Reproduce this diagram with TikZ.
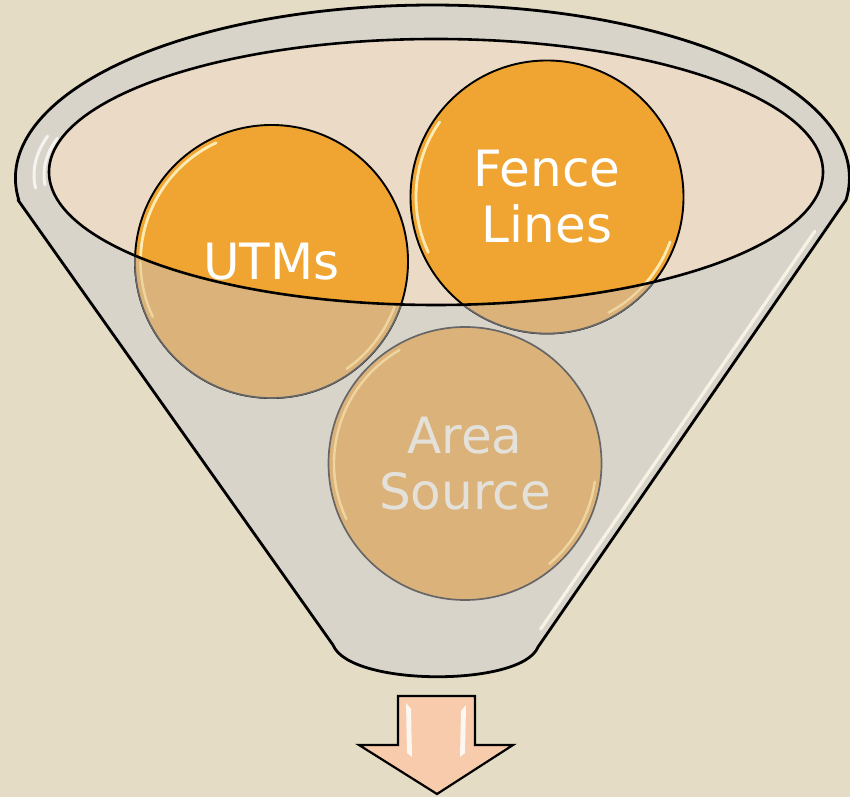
\documentclass[tikz,border=0pt]{standalone}
\usepackage{fontspec}
\setmainfont{DejaVu Sans}

\definecolor{paper}{HTML}{E4DCC4}
\definecolor{funnelgray}{HTML}{D8D4CA}
\definecolor{mouth}{HTML}{EBDBC6}
\definecolor{ballhot}{HTML}{F0A431}
\definecolor{ballmuted}{HTML}{DBB37A}
\definecolor{arrowfill}{HTML}{F7CBAB}
\definecolor{mutedtext}{HTML}{E4E1DB}
\definecolor{gloss}{HTML}{FFF2C0}
\definecolor{sheen}{HTML}{F6F2E6}

\tikzset{
  ball/.style={circle, minimum size=273pt, inner sep=0pt, draw=black,
    line width=1.9pt, fill=ballhot},
  glossline/.style={gloss, line width=2.8pt, line cap=round, opacity=0.9},
  glossfaint/.style={gloss, line width=2.4pt, line cap=round, opacity=0.55},
  labeltext/.style={font=\fontsize{50}{56}\selectfont, align=center, inner sep=0pt},
  rimsheen/.style={white, line width=3pt, line cap=round, opacity=0.75},
}

% glossy rim on a ball: node, start angle, end angle, radius, style
\newcommand\ballglint[5]{%
  \draw[#5] (#1.center) ++(#2:#4) arc[start angle=#2, end angle=#3, radius=#4];}

\begin{document}
\begin{tikzpicture}[x=1pt, y=1pt]
\useasboundingbox (0,0) rectangle (850,797);
\fill[paper] (0,0) rectangle (850,797);

% funnel body with its rim
\path[draw=black, line width=2.8pt, fill=funnelgray, line join=round]
  (18,597) -- (333,152) .. controls (350,110) and (522,110) .. (538,150)
  -- (846,597) arc[start angle=-7.3, end angle=187.3, x radius=417, y radius=173]
  -- cycle;

% sheen on the rim and on the right wall
\draw[rimsheen] (434,622) ++(-400*0.9659,150*0.2588)
  arc[start angle=165, end angle=185, x radius=400, y radius=150];
\draw[rimsheen] (436,622) ++(-392*0.9659,142*0.2588)
  arc[start angle=165, end angle=184, x radius=392, y radius=142];
\draw[sheen, line width=3.2pt, line cap=round] (814.8,565.7) -- (540.6,167.9);

% mouth of the funnel
\fill[mouth] (436,625) ellipse[x radius=387, y radius=133];

% balls
\node[ball] (utms) at (271.5,535.5) {};
\node[ball] (fence) at (547,600) {};
\node[ball, fill=ballmuted, draw=black!60, line width=1.7pt] (area) at (465,333.5) {};

\ballglint{utms}{115}{180}{131}{glossline}
\ballglint{fence}{145}{205}{131}{glossline}
\ballglint{fence}{-20}{-62}{131}{glossline}
\ballglint{area}{120}{205}{131}{glossfaint}
\ballglint{area}{-8}{-50}{131}{glossfaint}

% parts of the balls seen through the front wall
\begin{scope}
  \clip (0,0) -- (850,0) -- (850,625) -- (823,625)
    arc[start angle=0, end angle=-180, x radius=387, y radius=133]
    -- (0,625) -- cycle;
  \fill[ballmuted, draw=black!60, line width=1.7pt] (utms.center) circle[radius=136.5];
  \fill[ballmuted, draw=black!60, line width=1.7pt] (fence.center) circle[radius=136.5];
  \ballglint{utms}{180}{205}{131}{glossfaint}
  \ballglint{utms}{-10}{-55}{131}{glossfaint}
  \ballglint{fence}{-20}{-62}{131}{glossfaint}
\end{scope}

% front edge of the mouth
\draw[line width=2.6pt] (436,625) ellipse[x radius=387, y radius=133];

% labels
\node[labeltext, text=white] (utmsLabel) at (utms) {UTMs};
\node[labeltext, text=white] (fenceLabel) at (fence) {Fence\\Lines};
\node[labeltext, text=mutedtext] (areaLabel) at (area) {Area\\Source};

% output arrow
\path[draw=black, line width=2.2pt, fill=arrowfill, line join=miter]
  (398,101) -- (475,101) -- (475,52) -- (513,52) -- (437,3) -- (359,52)
  -- (398,52) -- cycle;
\fill[white, opacity=0.85] (406,94) -- (411,88) -- (412,40) -- (407,44) -- cycle;
\fill[white, opacity=0.85] (466,92) -- (461,86) -- (460,40) -- (465,44) -- cycle;
\end{tikzpicture}
\end{document}
